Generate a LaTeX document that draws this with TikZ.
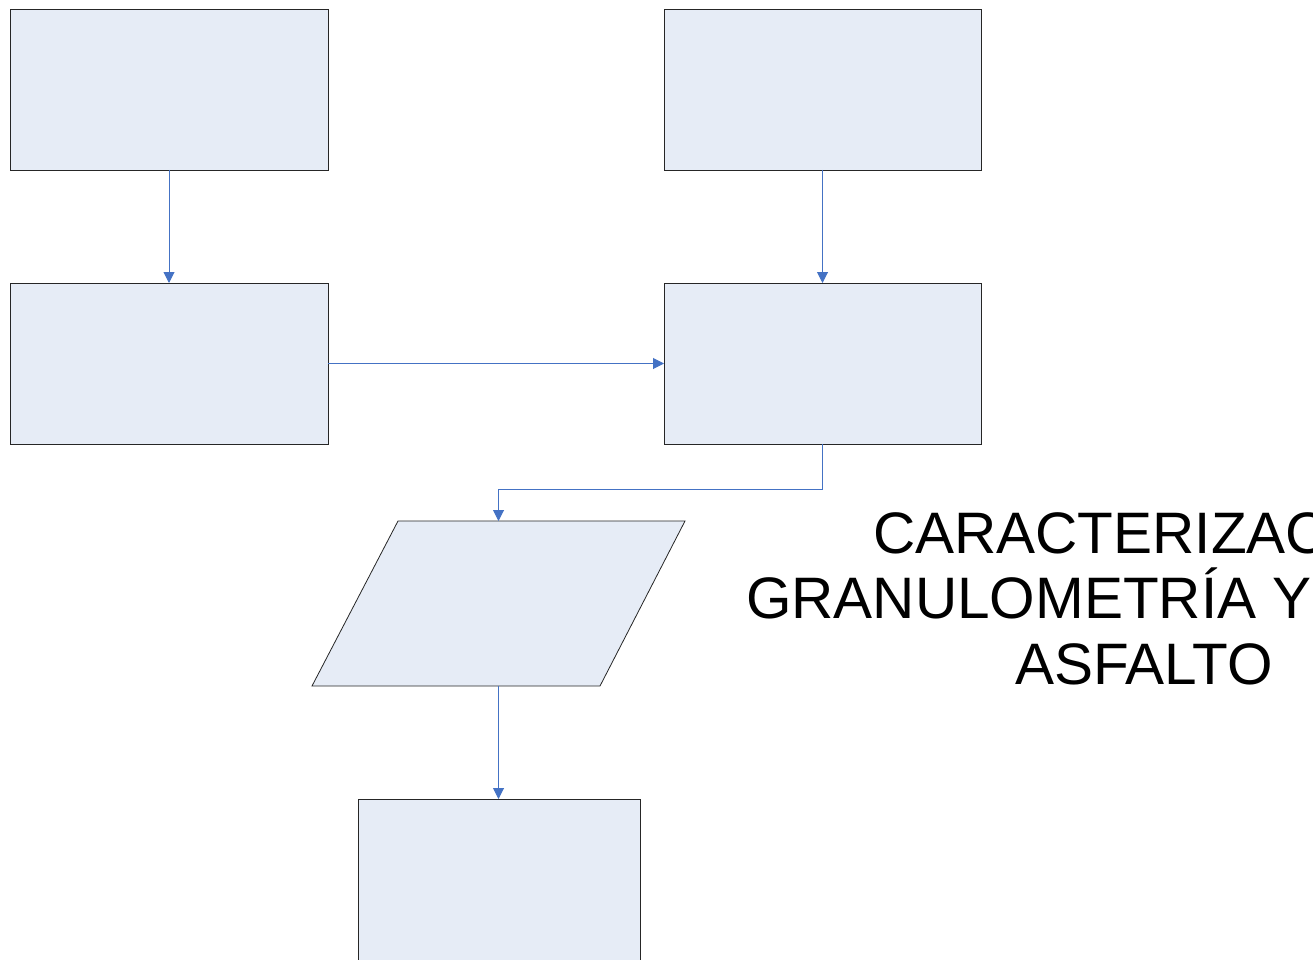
\documentclass[tikz,border=0pt]{standalone}
\usepackage{fontspec}
\setmainfont{Liberation Sans}
\usetikzlibrary{arrows.meta}
\definecolor{boxfill}{RGB}{230,236,246}
\definecolor{linkblue}{RGB}{68,114,196}
\tikzset{
  box/.style={draw=black!85, line width=0.8pt, fill=boxfill, rectangle,
              inner sep=0pt, outer sep=0pt},
  conn/.style={draw=linkblue, line width=1pt,
               -{Triangle[width=11pt,length=11pt]}},
  title/.style={anchor=base west, inner sep=0pt, font=\fontsize{58.5}{65}\selectfont}
}
\begin{document}
\begin{tikzpicture}[x=1pt,y=-1pt]
  \useasboundingbox (0,0) rectangle (1313,960);
  \clip (0,0) rectangle (1313,960);

  % process boxes
  \node[box, minimum width=318, minimum height=161] (A) at (169,89.5) {};
  \node[box, minimum width=317, minimum height=161] (B) at (822.5,89.5) {};
  \node[box, minimum width=318, minimum height=161] (C) at (169,363.5) {};
  \node[box, minimum width=317, minimum height=161] (D) at (822.5,363.5) {};
  \node[box, minimum width=282, minimum height=220] (E) at (499,909) {};

  % data (parallelogram)
  \draw[draw=black!85, line width=0.8pt, fill=boxfill]
    (398,521) -- (685,521) -- (600,686) -- (312,686) -- cycle;
  \coordinate (Ptop) at (498.5,521);
  \coordinate (Pbot) at (498.5,686);

  % connectors
  \draw[conn] (A) -- (C);
  \draw[conn] (B) -- (D);
  \draw[conn] (C) -- (D);
  \draw[conn] (D.south) -- ++(0,45) -| (Ptop);
  \draw[conn] (Pbot) -- (Pbot |- E.north);

  % title text
  \node[title] (t1) at (873,553) {CARACTERIZAC};
  \node[title] (t2) at (746,618) {GRANULOMETRÍA Y};
  \node[title] (t3) at (1015,684) {ASFALTO};
\end{tikzpicture}
\end{document}
